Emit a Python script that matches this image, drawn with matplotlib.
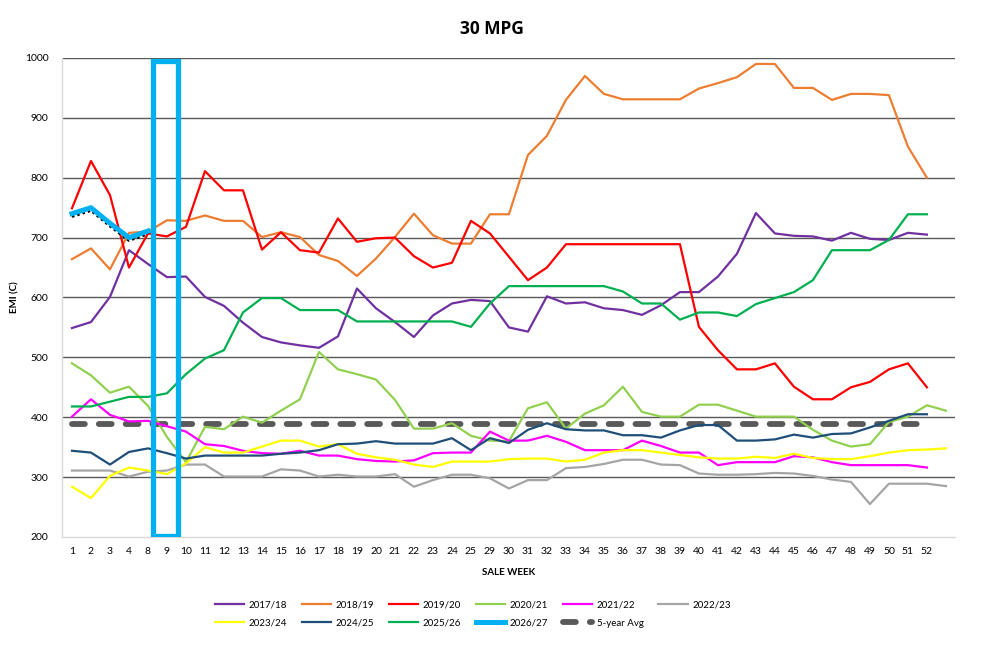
import matplotlib
matplotlib.use("Agg")
import matplotlib.pyplot as plt
from matplotlib.patches import Rectangle
from matplotlib.transforms import offset_copy

plt.rcParams['font.family'] = ['Lato', 'DejaVu Sans']

weeks = ['1', '2', '3', '4'] + [str(w) for w in range(8, 26)] + [str(w) for w in range(29, 53)] + ['']

s1718 = [549, 559, 601, 679, 656, 634, 635, 601, 586, 558, 534, 525, 520, 516, 535, 615, 582,
         559, 534, 570, 590, 596, 594, 550, 543, 602, 590, 592, 582, 579, 571, 587, 609,
         609, 635, 673, 741, 707, 703, 702, 695, 708, 698, 696, 708, 705]
s1819 = [664, 682, 647, 708, 710, 729, 728, 737, 728, 728, 701, 709, 701, 671, 661, 636, 665,
         701, 740, 704, 690, 690, 739, 739, 838, 870, 930, 970, 940, 931, 931, 931, 931,
         949, 958, 968, 990, 990, 950, 950, 930, 940, 940, 938, 852, 800]
s1920 = [749, 828, 771, 650, 707, 702, 718, 811, 779, 779, 680, 709, 679, 675, 732, 693, 699,
         700, 669, 650, 658, 728, 707, 668, 629, 650, 689, 689, 689, 689, 689, 689, 689,
         551, 512, 480, 480, 490, 451, 430, 430, 450, 459, 480, 490, 450]
s2021 = [490, 470, 441, 451, 419, 367, 325, 384, 380, 401, 391, 411, 430, 509, 480, 472, 463,
         429, 381, 381, 390, 369, 361, 360, 415, 425, 381, 406, 420, 451, 409, 401, 401,
         421, 421, 411, 401, 401, 401, 379, 361, 351, 355, 392, 401, 420, 411]
s2122 = [401, 430, 404, 393, 394, 385, 376, 355, 352, 344, 340, 339, 344, 336, 336, 330, 327,
         326, 328, 340, 341, 341, 376, 361, 361, 369, 359, 345, 345, 345, 361, 352, 341,
         341, 320, 325, 325, 325, 335, 333, 325, 320, 320, 320, 320, 316]
s2223 = [311, 311, 311, 301, 309, 311, 321, 321, 301, 301, 301, 313, 311, 301, 304, 301, 301,
         305, 284, 295, 304, 304, 298, 281, 295, 295, 315, 317, 322, 329, 329, 321, 320,
         306, 304, 304, 305, 307, 306, 302, 296, 292, 255, 289, 289, 289, 285]
s2324 = [284, 265, 302, 316, 311, 305, 323, 350, 341, 341, 351, 361, 361, 351, 355, 339, 333,
         329, 321, 317, 326, 326, 326, 330, 331, 331, 326, 329, 341, 345, 345, 341, 337,
         333, 331, 331, 334, 332, 339, 332, 330, 330, 335, 341, 345, 346, 348]
s2425 = [344, 341, 321, 342, 348, 340, 331, 336, 336, 336, 336, 339, 341, 345, 355, 356, 360,
         356, 356, 356, 365, 345, 365, 357, 379, 390, 380, 378, 378, 370, 370, 366, 378,
         387, 387, 361, 361, 363, 371, 366, 372, 373, 383, 394, 405, 405]
s2526 = [418, 418, 426, 434, 434, 440, 472, 498, 512, 575, 599, 599, 579, 579, 579, 560, 560,
         560, 560, 560, 560, 551, 590, 619, 619, 619, 619, 619, 619, 610, 590, 590, 563,
         575, 575, 569, 589, 599, 609, 629, 679, 679, 679, 696, 739, 739]
s2627 = [740, 750, 724, 700, 711]
avg5 = [388] * 46

series = [
    ('2017/18', s1718, '#7030A0'),
    ('2018/19', s1819, '#ED7D31'),
    ('2019/20', s1920, '#FF0000'),
    ('2020/21', s2021, '#92D050'),
    ('2021/22', s2122, '#FF00FF'),
    ('2022/23', s2223, '#A5A5A5'),
    ('2023/24', s2324, '#FFFF00'),
    ('2024/25', s2425, '#1F4E79'),
    ('2025/26', s2526, '#00B050'),
]

fig = plt.figure(figsize=(9.87, 6.48), dpi=100)
ax = fig.add_axes([0.0633, 0.1713, 0.9047, 0.7392])

handles = {}
for name, vals, col in series:
    h, = ax.plot(range(len(vals)), vals, color=col, lw=1.6, label=name, zorder=3)
    handles[name] = h

h_avg, = ax.plot(range(len(avg5)), avg5, color='#595959', lw=4.2, ls=(0, (2.2, 2.4)),
                 dash_capstyle='round', label='5-year Avg', zorder=2)
handles['5-year Avg'] = h_avg

tr = offset_copy(ax.transData, fig=fig, x=0, y=-3, units='dots')
ax.plot(range(len(s2627)), s2627, color='black', lw=1.8, ls=(0, (1, 1.2)),
        transform=tr, zorder=3.5)
h26, = ax.plot(range(len(s2627)), s2627, color='#00B0F0', lw=3.6, label='2026/27',
               zorder=4, solid_joinstyle='round')
handles['2026/27'] = h26

rect = Rectangle((4.26, 202.5), 1.34, 792.5, fill=False, edgecolor='#00B0F0',
                 lw=3.8, zorder=5)
ax.add_patch(rect)

ax.set_xlim(-0.5, len(weeks) - 0.5)
ax.set_ylim(200, 1000)
ax.set_xticks(range(len(weeks)))
ax.set_xticklabels(weeks)
ax.set_yticks(range(200, 1001, 100))
ax.tick_params(axis='both', length=0, labelsize=7.5, colors='#000000')
ax.tick_params(axis='x', pad=7)
ax.tick_params(axis='y', pad=10)

for v in range(300, 1001, 100):
    ax.axhline(v, color='#595959', lw=1.0, zorder=1)

for s in ['top', 'right']:
    ax.spines[s].set_visible(False)
for s in ['left', 'bottom']:
    ax.spines[s].set_color('#D9D9D9')
    ax.spines[s].set_linewidth(1.0)

ax.set_xlabel('SALE WEEK', fontsize=7, fontweight='bold', labelpad=9)
ax.set_ylabel('EMI (C)', fontsize=7, fontweight='bold', labelpad=4)
fig.text(0.498, 0.955, '30 MPG', ha='center', va='center', fontsize=12.5,
         fontweight='bold', family=['Open Sans', 'DejaVu Sans'])

row1 = ['2017/18', '2018/19', '2019/20', '2020/21', '2021/22', '2022/23']
row2 = ['2023/24', '2024/25', '2025/26', '2026/27', '5-year Avg']
order = []
for i in range(6):
    order.append(row1[i])
    if i < len(row2):
        order.append(row2[i])
fig.legend([handles[n] for n in order], order, loc='center', bbox_to_anchor=(0.479, 0.0525),
           ncol=6, frameon=False, fontsize=7, handlelength=3.0, handletextpad=0.5,
           columnspacing=1.5, labelspacing=0.95)

fig.savefig('out.png', dpi=100)
